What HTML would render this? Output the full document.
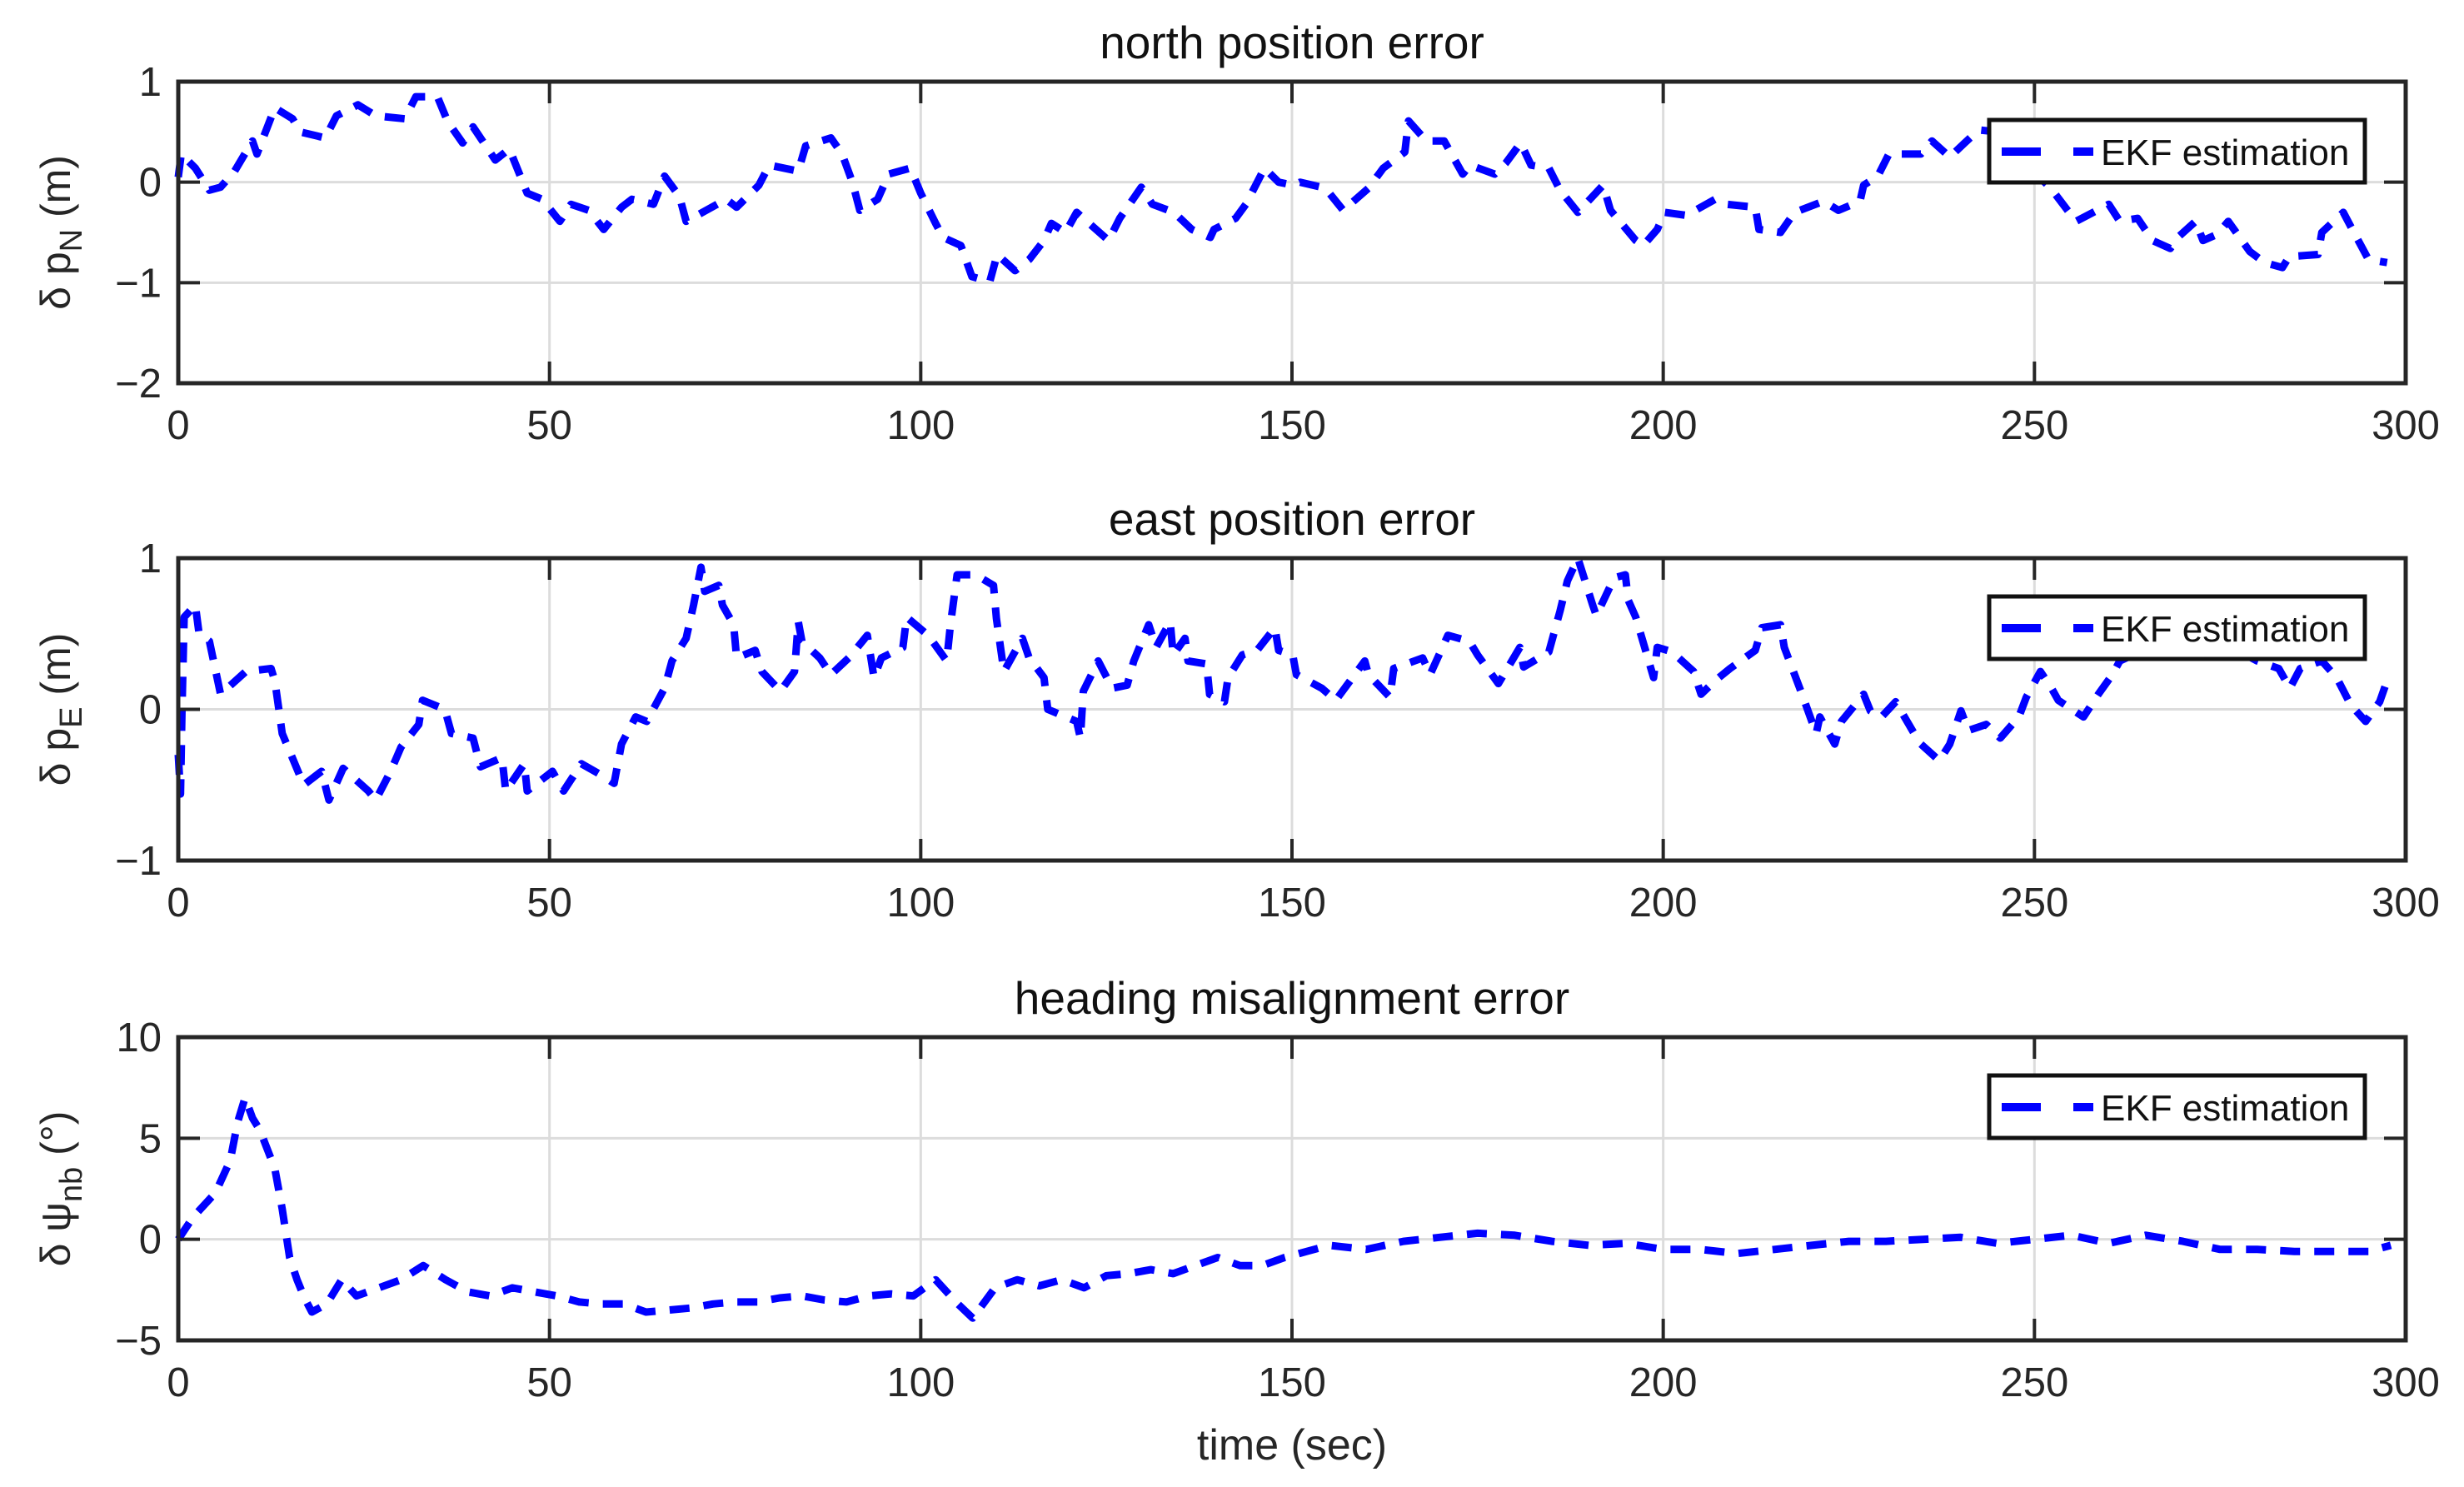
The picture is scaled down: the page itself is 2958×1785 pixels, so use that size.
<!DOCTYPE html>
<html><head><meta charset="utf-8"><style>
html,body{margin:0;padding:0;background:#fff;}
svg{display:block;font-family:"Liberation Sans",Arial,sans-serif;}
</style></head>
<body>
<svg id="fig" width="2958" height="1785" viewBox="0 0 2958 1785" xmlns="http://www.w3.org/2000/svg">
<rect x="0" y="0" width="2958" height="1785" fill="#fff"/>
<g id="root"></g>
</svg>
<script>
const xTicks=[0,50,100,150,200,250,300];
const northT=[0,0.4,2.3,4.2,5.7,7.6,10,10.6,13,15.4,16.4,19.8,21.3,24.2,26.6,30.5,32,34.9,36.3,38.3,39.7,42.7,44.6,47,49,51.4,52.9,55.3,57.3,59.7,61.1,64,65.5,67.5,68.4,73.8,75.2,78.2,79.6,83.5,84.5,87.9,89.4,90.8,91.8,94.2,95.7,98.6,100,102,103,105.4,106.9,109.3,110.3,112.7,114.6,116.6,117.6,119.5,121,125.3,126.8,129.7,131.2,134.1,136.5,139,139.5,142.4,143.8,146.3,148.2,150.2,151.1,154.5,156.9,160.3,162.3,165.2,165.7,168.1,170.5,173,174,177.3,178.8,180.8,182.2,184.6,186.1,188.5,189.5,191.9,192.9,196.3,197.3,199.2,200.2,203.1,207,208.5,212.4,212.9,215.8,217.7,221.6,223.6,226.5,227,228.9,230.4,234.7,236.2,238.6,240.6,242.5,245,248,250,252.2,255.6,260,261.5,263.9,265.9,268.3,269.3,271.7,272.7,274.6,276.1,279,281,283.4,284.3,288.2,288.7,291.6,292.6,295,297.5];
const northV=[0.05,0.28,0.14,-0.08,-0.05,0.11,0.41,0.28,0.74,0.63,0.5,0.44,0.66,0.77,0.66,0.63,0.85,0.85,0.6,0.39,0.55,0.22,0.33,-0.11,-0.17,-0.39,-0.22,-0.28,-0.47,-0.25,-0.17,-0.22,0.06,-0.14,-0.39,-0.17,-0.25,-0.03,0.17,0.11,0.36,0.44,0.28,0,-0.28,-0.17,0.08,0.14,-0.11,-0.41,-0.55,-0.63,-0.94,-0.99,-0.72,-0.88,-0.77,-0.58,-0.41,-0.5,-0.3,-0.58,-0.36,-0.05,-0.22,-0.3,-0.47,-0.55,-0.47,-0.36,-0.22,0.14,0,-0.03,0,-0.06,-0.28,-0.06,0.14,0.3,0.61,0.41,0.41,0.08,0.17,0.08,0.19,0.39,0.17,0.14,-0.08,-0.3,-0.22,-0.03,-0.28,-0.58,-0.63,-0.47,-0.3,-0.33,-0.17,-0.22,-0.25,-0.47,-0.5,-0.3,-0.19,-0.28,-0.19,-0.03,0.06,0.28,0.28,0.41,0.25,0.39,0.52,0.5,0.3,0.1,-0.06,-0.39,-0.22,-0.39,-0.36,-0.58,-0.66,-0.55,-0.39,-0.58,-0.52,-0.39,-0.69,-0.8,-0.85,-0.74,-0.72,-0.5,-0.3,-0.44,-0.77,-0.8];
const eastT=[0,0.3,0.5,0.8,2.3,2.8,4.2,5.7,9.1,12.5,13,14,16.9,19.3,20.3,22.2,25.6,26.6,28.6,30,32.4,32.9,35.9,36.8,39.7,40.7,43.6,44.1,46.6,47,50.4,51.9,54.3,56.8,58.7,59.7,61.6,63.1,65.5,66.5,68.4,69.4,70.4,70.9,72.8,73.3,74.8,75.2,77.7,78.6,81.1,83,83.5,84,86.4,87.9,90.3,92.8,93.7,94.7,97.6,98.1,101,103.5,104,104.9,107.4,109.8,110.2,111.2,113.7,114.6,116.6,117.1,121,121.5,121.9,123.9,125.8,127.8,128.7,130.7,131.7,133.6,134,135.6,136,138.5,138.9,140.9,141.4,143.3,145.3,147.7,148.2,150.1,150.6,154,155.9,159.8,160.3,163.2,163.7,167.6,168.6,171,173.9,175,177.8,180.7,181.2,184.6,186.1,187.1,188.5,190.5,191,193.4,194.9,195.3,196.3,198.7,199.2,201.2,204.1,205.1,207,209,212.4,213.3,215.8,216.3,217.7,218.7,220.6,221.1,223.1,224,227,227.9,229.4,231.3,233.8,234.7,237.2,238.6,240.1,241.1,243.5,245.4,247.9,248.9,250.8,252.3,253.2,256.6,258.6,260.5,261.5,265,270,275,280,282.9,284.4,285.8,288.7,290.7,292.6,294.6,296.5,297.5];
const eastV=[-0.3,-0.56,0,0.61,0.69,0.5,0.45,0.1,0.25,0.27,0.19,-0.16,-0.5,-0.41,-0.6,-0.39,-0.54,-0.6,-0.41,-0.25,-0.1,0.06,0,-0.16,-0.19,-0.38,-0.32,-0.54,-0.36,-0.54,-0.41,-0.54,-0.36,-0.43,-0.49,-0.23,-0.05,-0.08,0.14,0.32,0.47,0.69,0.94,0.78,0.82,0.69,0.56,0.34,0.39,0.25,0.12,0.25,0.58,0.45,0.34,0.23,0.34,0.49,0.21,0.34,0.41,0.61,0.49,0.32,0.56,0.89,0.89,0.82,0.6,0.25,0.47,0.34,0.21,0,-0.08,-0.19,0.12,0.32,0.14,0.16,0.32,0.56,0.41,0.58,0.36,0.47,0.32,0.3,0.1,0.05,0.21,0.36,0.39,0.54,0.39,0.36,0.23,0.14,0.06,0.32,0.23,0.08,0.27,0.34,0.23,0.49,0.45,0.36,0.17,0.41,0.28,0.38,0.65,0.85,1.0,0.69,0.62,0.87,0.89,0.72,0.61,0.21,0.41,0.38,0.25,0.1,0.19,0.27,0.39,0.54,0.56,0.41,0.23,0.1,-0.16,-0.05,-0.23,-0.08,0.1,-0.01,-0.05,0.05,-0.16,-0.23,-0.34,-0.23,-0.01,-0.14,-0.1,-0.19,-0.05,0.08,0.25,0.14,0.06,-0.05,0.1,0.23,0.32,0.4,0.35,0.45,0.32,0.27,0.14,0.27,0.32,0.21,0.03,-0.08,0.05,0.19];
const headT=[0,2,5,7,8,9,10,11,13,14,15,16,17,18,20,22,24,27,30,33,36,39,42,45,48,51,54,57,60,63,66,69,72,75,78,81,84,87,90,93,96,99,102,105,107,110,113,116,119,122,125,128,131,134,137,140,143,146,149,152,155,160,165,170,175,180,185,190,195,200,205,210,215,220,225,230,235,240,245,250,255,260,265,270,275,280,285,290,295,298];
const headV=[0,1.1,2.3,3.9,5.8,7,6,5.4,3.5,1.5,-0.9,-2,-2.9,-3.6,-3.2,-2,-2.8,-2.4,-2,-1.3,-2,-2.6,-2.8,-2.4,-2.6,-2.8,-3.1,-3.2,-3.2,-3.6,-3.5,-3.4,-3.2,-3.1,-3.1,-2.9,-2.8,-3,-3.1,-2.8,-2.7,-2.8,-2,-3.2,-3.9,-2.4,-2,-2.3,-2,-2.4,-1.8,-1.7,-1.5,-1.7,-1.3,-0.9,-1.3,-1.3,-0.9,-0.6,-0.3,-0.5,-0.1,0.1,0.3,0.2,-0.1,-0.3,-0.2,-0.5,-0.5,-0.7,-0.5,-0.3,-0.1,-0.1,0,0.1,-0.2,0,0.2,-0.2,0.2,-0.1,-0.5,-0.5,-0.6,-0.6,-0.6,-0.3];
const northTicks=[-2,-1,0,1];
const eastTicks=[-1,0,1];
const headTicks=[-5,0,5,10];

const NS='http://www.w3.org/2000/svg';
const root=document.getElementById('root');
function mk(tag,attrs,parent){const e=document.createElementNS(NS,tag);for(const k in attrs)e.setAttribute(k,attrs[k]);(parent||root).appendChild(e);return e;}
const X0=214,X1=2888;
function xs(t){return X0+(t-0)/(300-0)*(X1-X0);}

function panel(name,top,bot,ymin,ymax,yticks,T,V,title,ylab,sub,suffix){
  const g=mk('g',{});
  
  
  const ys=v=>bot-(v-ymin)/(ymax-ymin)*(bot-top);
  xTicks.forEach(t=>{if(t>0&&t<300){const l=mk('line',{x1:xs(t),x2:xs(t),y1:top,y2:bot,stroke:'#dcdcdc','stroke-width':3},g);
    }});
  yticks.forEach(v=>{if(v>ymin&&v<ymax){const l=mk('line',{x1:X0,x2:X1,y1:ys(v),y2:ys(v),stroke:'#dcdcdc','stroke-width':3},g);
    }});
  let d='';T.forEach((t,i)=>{d+=(i?'L':'M')+xs(t).toFixed(1)+' '+ys(V[i]).toFixed(1);});
  const p=mk('path',{d:d,fill:'none',stroke:'#0000ff','stroke-width':9,'stroke-dasharray':'24 17','stroke-linejoin':'round'},g);
  
  
  xTicks.forEach(t=>{
    mk('line',{x1:xs(t),x2:xs(t),y1:bot,y2:bot-26,stroke:'#262626','stroke-width':4},g);
    mk('line',{x1:xs(t),x2:xs(t),y1:top,y2:top+26,stroke:'#262626','stroke-width':4},g);
    const tx=mk('text',{x:xs(t),y:bot+67,'font-size':49,'text-anchor':'middle',fill:'#262626'},g);
    tx.textContent=t;
    
    
  });
  yticks.forEach(v=>{
    mk('line',{x1:X0,x2:X0+26,y1:ys(v),y2:ys(v),stroke:'#262626','stroke-width':4},g);
    mk('line',{x1:X1,x2:X1-26,y1:ys(v),y2:ys(v),stroke:'#262626','stroke-width':4},g);
    const tx=mk('text',{x:X0-20,y:ys(v)+17,'font-size':49,'text-anchor':'end',fill:'#262626'},g);
    tx.textContent=(v<0?'\u2212'+(-v):v);
    
    
  });
  const box=mk('rect',{x:X0,y:top,width:X1-X0,height:bot-top,fill:'none',stroke:'#262626','stroke-width':5},g);
  
  
  const ti=mk('text',{x:(X0+X1)/2,y:top-28,'font-size':55,'text-anchor':'middle',fill:'#111'},g);
  ti.textContent=title;
  
  
  const cy=(top+bot)/2;
  const yl=mk('text',{x:0,y:0,'font-size':50,'text-anchor':'middle',fill:'#262626',transform:'translate(84,'+cy+') rotate(-90)'},g);
  
  
  const a=mk('tspan',{},yl);a.textContent=ylab;
  const b=mk('tspan',{dy:14,'font-size':38},yl);b.textContent=sub;
  const c=mk('tspan',{dy:-14},yl);c.textContent=suffix;
  const lg=mk('g',{},g);
  
  
  mk('rect',{x:2388,y:top+46,width:451,height:75,fill:'#fff',stroke:'#111','stroke-width':5},lg);
  mk('line',{x1:2403,x2:2450,y1:top+84,y2:top+84,stroke:'#0000ff','stroke-width':10},lg);
  mk('line',{x1:2489,x2:2513,y1:top+84,y2:top+84,stroke:'#0000ff','stroke-width':10},lg);
  const lt=mk('text',{x:2522,y:top+100,'font-size':44,fill:'#111'},lg);
  lt.textContent='EKF estimation';
  
  
}
panel('north',98,460,-2,1,northTicks,northT,northV,'north position error','\u03b4 p','N',' (m)');
panel('east',670,1033,-1,1,eastTicks,eastT,eastV,'east position error','\u03b4 p','E',' (m)');
panel('heading',1245,1609,-5,10,headTicks,headT,headV,'heading misalignment error','\u03b4 \u03c8','nb',' (\u00b0)');
const xl=mk('text',{x:(X0+X1)/2,y:1752,'font-size':52,'text-anchor':'middle',fill:'#262626'});
xl.textContent='time (sec)';


</script>
</body></html>
